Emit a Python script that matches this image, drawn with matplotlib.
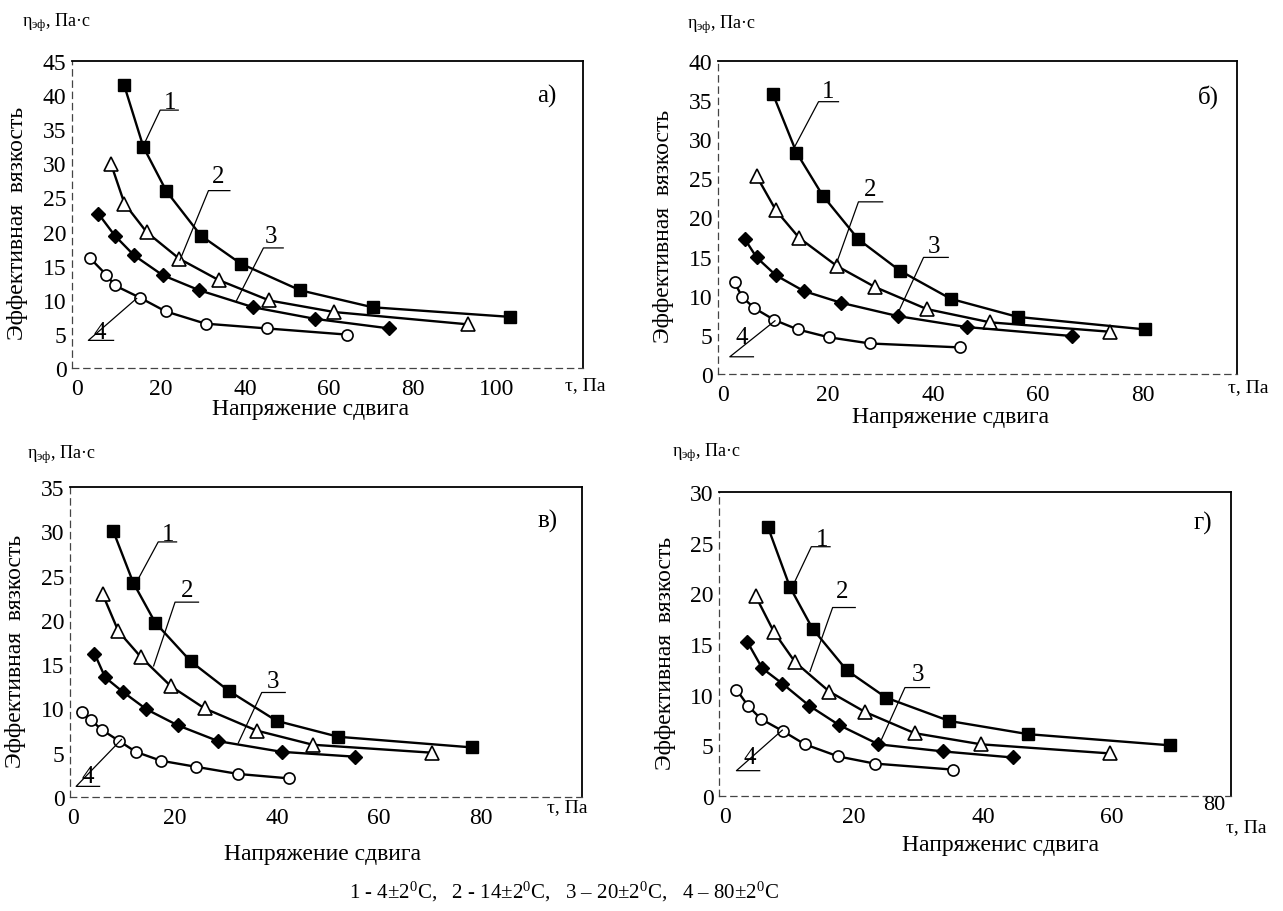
import matplotlib
matplotlib.use("Agg")
import matplotlib.pyplot as plt

plt.rcParams['font.family'] = ['Liberation Serif', 'DejaVu Serif']
plt.rcParams['mathtext.fontset'] = 'custom'
plt.rcParams['mathtext.rm'] = 'Liberation Serif'
plt.rcParams['mathtext.it'] = 'Liberation Serif:italic'

# ---------------- data ----------------
panel_letters = ["а)", "б)", "в)", "г)"]
ylabel_text = "Эффективная  вязкость"
xlabel_texts = ["Напряжение сдвига", "Напряжение сдвига", "Напряжение сдвига", "Напряженис сдвига"]
unit_text = r"$\mathrm{η}_{\mathrm{эф}}$, Па·с"
tau_text = "τ, Па"
caption = r"1 - 4±2$^0$C,   2 - 14±2$^0$C,   3 – 20±2$^0$C,   4 – 80±2$^0$C"
curve_labels = ["1", "2", "3", "4"]

# panel a
tau_a = [
    [11.2, 15.8, 21.3, 29.5, 39.0, 53.1, 70.4, 103.0],
    [8.1, 11.3, 16.6, 24.4, 33.7, 45.8, 61.3, 93.1],
    [5.1, 9.0, 13.6, 20.4, 29.1, 42.0, 56.7, 74.4],
    [3.1, 6.9, 9.0, 15.0, 21.1, 30.6, 45.2, 64.2],
]
eta_a = [
    [41.5, 32.4, 25.9, 19.4, 15.3, 11.4, 8.9, 7.5],
    [29.9, 24.1, 19.9, 16.0, 12.9, 9.9, 8.2, 6.4],
    [22.6, 19.4, 16.5, 13.6, 11.4, 8.9, 7.2, 5.8],
    [16.1, 13.7, 12.1, 10.3, 8.3, 6.5, 5.8, 4.9],
]
# panel б
tau_b = [
    [9.5, 14.0, 19.0, 25.8, 33.7, 43.4, 56.1, 80.4],
    [6.4, 10.1, 14.5, 21.7, 29.0, 38.8, 50.9, 73.7],
    [4.2, 6.4, 10.1, 15.4, 22.5, 33.3, 46.4, 66.5],
    [2.2, 3.7, 6.0, 9.8, 14.2, 20.1, 28.0, 45.1],
]
eta_b = [
    [35.8, 28.3, 22.8, 17.2, 13.2, 9.6, 7.3, 5.7],
    [25.3, 20.9, 17.4, 13.8, 11.1, 8.3, 6.6, 5.4],
    [17.2, 14.9, 12.6, 10.6, 9.1, 7.4, 6.0, 4.85],
    [11.7, 9.8, 8.4, 6.9, 5.7, 4.7, 3.9, 3.4],
]
# panel в
tau_c = [
    [7.9, 11.8, 16.1, 23.1, 30.5, 39.9, 52.0, 78.2],
    [5.8, 8.9, 13.3, 19.2, 25.8, 36.0, 47.0, 70.4],
    [4.2, 6.3, 9.7, 14.4, 20.5, 28.5, 40.9, 55.3],
    [1.7, 3.5, 5.6, 9.1, 12.3, 17.2, 24.2, 32.4, 42.4],
]
eta_c = [
    [30.0, 24.2, 19.7, 15.3, 12.0, 8.6, 6.8, 5.6],
    [22.9, 18.7, 15.8, 12.5, 10.0, 7.5, 5.9, 5.0],
    [16.2, 13.5, 11.9, 9.9, 8.1, 6.3, 5.1, 4.55],
    [9.6, 8.7, 7.6, 6.3, 5.1, 4.1, 3.4, 2.6, 2.1],
]
# panel г
tau_d = [
    [6.7, 10.1, 13.6, 18.9, 25.0, 34.8, 47.0, 69.0],
    [4.8, 7.6, 10.9, 16.2, 21.7, 29.4, 39.7, 59.7],
    [3.5, 5.8, 8.9, 13.1, 17.7, 23.8, 33.8, 44.6],
    [1.8, 3.6, 5.6, 9.0, 12.4, 17.6, 23.2, 35.4],
]
eta_d = [
    [26.5, 20.6, 16.5, 12.4, 9.7, 7.4, 6.1, 5.0],
    [19.7, 16.2, 13.2, 10.3, 8.3, 6.2, 5.1, 4.2],
    [15.2, 12.6, 11.1, 8.9, 7.0, 5.1, 4.4, 3.8],
    [10.5, 8.9, 7.6, 6.4, 5.1, 3.9, 3.2, 2.6],
]

# ---------------- layout ----------------
W, H = 1283, 912
fig = plt.figure(figsize=(W / 100, H / 100), dpi=100)
fig.patch.set_facecolor("white")


def fx(px):
    return px / W


def fy(py):
    return 1 - py / H


def add_ax(l, r, t, b):
    return fig.add_axes([l / W, 1 - b / H, (r - l) / W, (b - t) / H])


panels = [
    dict(box=(72, 583, 62, 369), xlim=(-1.2, 120.5), ylim=(0, 45), yt=range(0, 46, 5),
         xt=[0, 20, 40, 60, 80, 100], tau=tau_a, eta=eta_a,
         lbl=[(22.1, 39.0, 19.8, 24.1, 37.8, 15.8, 32.6),
              (33.7, 28.2, 31.3, 36.4, 26.0, 24.5, 15.8),
              (46.3, 19.4, 44.4, 49.1, 17.6, 38.0, 9.9),
              (5.5, 5.3, 2.7, 8.7, 4.05, 14.2, 10.2)],
         letter=(112, 39.9),
         unit=(22, 23), taupos=(585, 386), xlab=(310, 410)),
    dict(box=(718, 1237, 62, 375), xlim=(-0.95, 97.9), ylim=(0, 40), yt=range(0, 41, 5),
         xt=[0, 20, 40, 60, 80], tau=tau_b, eta=eta_b,
         lbl=[(20.1, 36.2, 18.2, 22.0, 34.8, 13.7, 29.1),
              (28.0, 23.6, 25.8, 30.4, 22.0, 21.7, 14.3),
              (40.1, 16.4, 38.2, 42.9, 14.9, 33.4, 7.9),
              (3.6, 4.7, 1.3, 5.8, 2.2, 9.9, 6.8)],
         letter=(92.4, 35.5),
         unit=(687, 25), taupos=(1248, 388), xlab=(950, 418)),
    dict(box=(70, 582, 488, 798), xlim=(-0.6, 99.8), ylim=(0, 35), yt=range(0, 36, 5),
         xt=[0, 20, 40, 60, 80], tau=tau_c, eta=eta_c,
         lbl=[(18.7, 29.7, 16.7, 20.3, 28.8, 12.2, 24.0),
              (22.3, 23.4, 20.0, 24.6, 22.0, 15.8, 14.8),
              (39.3, 13.1, 37.0, 41.6, 11.8, 32.4, 6.1),
              (2.8, 2.4, 0.6, 5.2, 1.2, 9.5, 6.5)],
         letter=(93, 31.2),
         unit=(27, 455), taupos=(567, 808), xlab=(322, 855)),
    dict(box=(719, 1231, 493, 797), xlim=(-0.9, 78.4), ylim=(0, 30), yt=range(0, 31, 5),
         xt=[0, 20, 40, 60], tau=tau_d, eta=eta_d,
         lbl=[(15.0, 25.4, 13.4, 16.3, 24.6, 10.5, 20.7),
              (18.1, 20.2, 16.7, 20.2, 18.6, 13.2, 12.3),
              (29.9, 12.0, 27.9, 31.7, 10.7, 24.0, 5.2),
              (3.9, 3.8, 1.8, 5.4, 2.5, 8.9, 6.5)],
         letter=(74, 27.0),
         unit=(672, 453), taupos=(1246, 828), xlab=(1000, 846)),
]

markers = [
    dict(marker="s", ms=9, mfc="black", mec="black"),
    dict(marker="^", ms=10, mfc="white", mec="black", mew=1.2),
    dict(marker="D", ms=7.5, mfc="black", mec="black"),
    dict(marker="o", ms=8, mfc="white", mec="black", mew=1.2),
]

for i, p in enumerate(panels):
    l, r, t, b = p["box"]
    ax = add_ax(l, r, t, b)
    ax.set_xlim(*p["xlim"])
    ax.set_ylim(*p["ylim"])
    ax.set_xticks(p["xt"])
    ax.set_yticks(list(p["yt"]))
    ax.tick_params(length=0, labelsize=17, pad=4)
    ax.tick_params(axis="x", pad=7)
    for s in ["top", "right"]:
        ax.spines[s].set_linewidth(1.3)
    for s in ["left", "bottom"]:
        ax.spines[s].set_linewidth(0.9)
        ax.spines[s].set_linestyle((0, (5, 4)))
        ax.spines[s].set_color("#444444")
    ax.patch.set_alpha(0)

    for k in range(4):
        ax.plot(p["tau"][k], p["eta"][k], color="black", lw=1.7, zorder=3, **markers[k])

    for k, (tx, ty, ux0, ux1, uy, dx, dy) in enumerate(p["lbl"]):
        ax.text(tx, ty, curve_labels[k], fontsize=18, ha="center", va="center", zorder=4)
        ax.plot([ux1, ux0, dx], [uy, uy, dy], color="black", lw=0.9, zorder=4)

    ax.text(p["letter"][0], p["letter"][1], panel_letters[i], fontsize=18,
            ha="center", va="center")

    fig.text(fx(p["unit"][0]), fy(p["unit"][1]), unit_text, fontsize=13,
             ha="left", va="center")
    fig.text(fx(p["taupos"][0]), fy(p["taupos"][1]), tau_text, fontsize=14,
             ha="center", va="center")
    fig.text(fx(p["xlab"][0]), fy(p["xlab"][1]), xlabel_texts[i], fontsize=17,
             ha="center", va="center")
    fig.text(fx(l - 54), fy((t + b) / 2 + 8), ylabel_text, fontsize=17, rotation=90,
             ha="center", va="center")

# misplaced "80" tick label on panel г
fig.text(fx(1214), fy(806), "80", fontsize=16, ha="center", va="center")

fig.text(fx(564), fy(892), caption, fontsize=15, ha="center", va="center")

fig.savefig("out.png", dpi=100)
